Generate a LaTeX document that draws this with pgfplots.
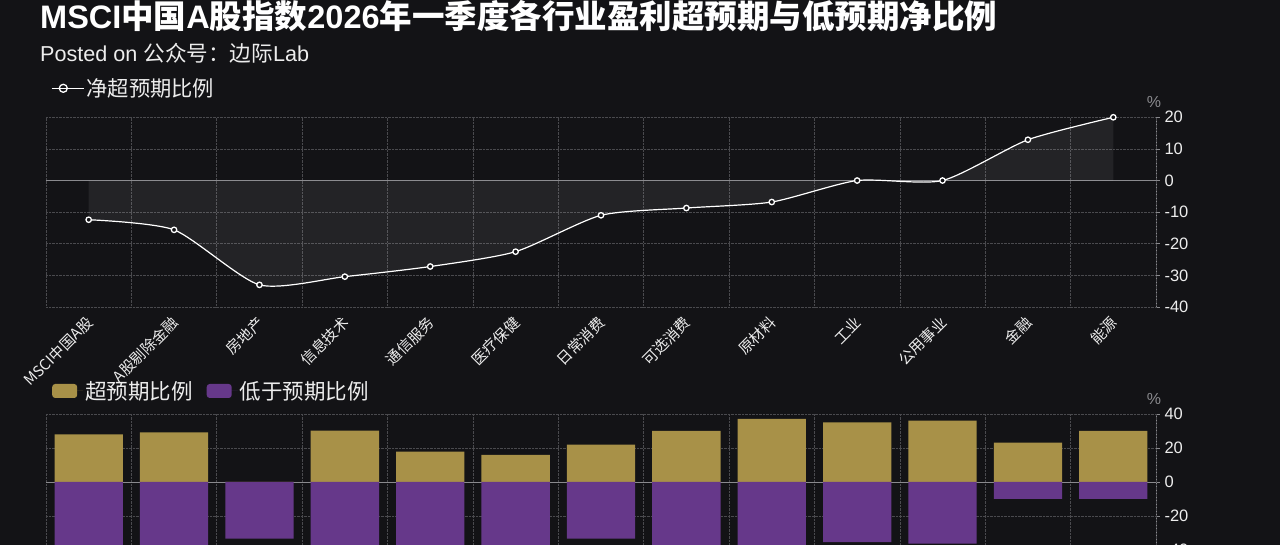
\documentclass[border=0pt]{standalone}
\usepackage{fontspec}
\setmainfont{Liberation Sans}
\newfontfamily\cjk{Noto Sans CJK SC}
\usepackage{pgfplots}
\pgfplotsset{compat=1.18}
\definecolor{bg}{HTML}{131316}
\definecolor{gold}{HTML}{A89148}
\definecolor{purp}{HTML}{66388A}
\definecolor{gridc}{HTML}{4A4A4E}
\definecolor{axc}{HTML}{8A8A8E}
\definecolor{txt}{HTML}{EDEDED}

\pgfplotstableread{
x y
0 -12.4
1 -15.6
2 -33.0
3 -30.4
4 -27.2
5 -22.5
6 -11.0
7 -8.7
8 -6.8
9 0
10 0
11 12.9
12 20
}\netdata

\pgfplotstableread{
x up down
0 28 -40.4
1 29.2 -44.8
2 0 -33.3
3 30.2 -60.6
4 17.8 -45.0
5 15.9 -38.4
6 22 -33.3
7 30 -38.7
8 37.1 -43.9
9 35.1 -35.3
10 36.1 -36.3
11 23.1 -10
12 30 -10
}\bardata

\pgfplotsset{
  barleg/.style={legend image code/.code={\fill[##1,/tikz/.cd, rounded corners=3pt] (0pt,-7pt) rectangle (25pt,7pt); \path (0pt,0pt) -- (31pt,0pt);}},
  common/.style={
    scale only axis, width=1110pt,
    xmin=-0.5, xmax=12.5,
    axis y line*=right, axis x line*=bottom,
    x axis line style={draw=none},
    y axis line style={axc, line width=0.8pt},
    xtick={0,...,12}, xtick style={draw=none},
    extra x ticks={-0.5,0.5,...,12.5}, extra x tick labels={},
    extra x tick style={grid=major, major tick length=0pt},
    ymajorgrids,
    grid style={gridc, densely dotted, line width=0.6pt},
    ytick style={axc, line width=0.8pt},
    tick align=outside, major tick length=4pt,
    yticklabel style={text=txt, font=\fontsize{16.5}{16.5}\selectfont, xshift=1pt},
    /pgf/number format/assume math mode=true,
    ylabel={\%},
    ylabel style={rotate=-90, at={(axis description cs:1,1)}, anchor=south, xshift=-2pt, yshift=6pt, text=axc, font=\fontsize{16}{16}\selectfont},
    legend cell align=left,
  },
}

\begin{document}
\begin{tikzpicture}
\fill[bg] (0pt,0pt) rectangle (1280pt,545pt);

\node[anchor=base west, inner sep=0pt, text=white, font=\fontsize{32.5}{32.5}\selectfont\bfseries] at (40pt,516pt) {MSCI{\cjk 中国}A{\cjk 股指数}2026{\cjk 年一季度各行业盈利超预期与低预期净比例}};
\node[anchor=base west, inner sep=0pt, text=txt, font=\fontsize{21.6}{21.6}\selectfont] at (40pt,483pt) {Posted on {\cjk 公众号：边际}Lab};

\begin{axis}[common,
  at={(46pt,238pt)}, anchor=south west, height=189.7pt,
  ymin=-40, ymax=20, ytick={-40,-30,...,20},
  xticklabels={MSCI中国A股,A股剔除金融,房地产,信息技术,通信服务,医疗保健,日常消费,可选消费,原材料,工业,公用事业,金融,能源},
  xticklabel style={xshift=2pt, yshift=-8pt, rotate=45, anchor=east, text=txt, font=\cjk\fontsize{15}{15}\selectfont, inner sep=1pt},
  legend style={at={(axis description cs:0,1)}, anchor=west, xshift=5pt, yshift=29pt, draw=none, fill=none, text=txt, font=\cjk\fontsize{21.3}{21.3}\selectfont, inner sep=0pt},
  legend image code/.code={\draw[mark repeat=2, mark phase=2, #1, mark size=4pt] plot coordinates {(0pt,0pt) (11.5pt,0pt) (23pt,0pt)}; \path (0pt,0pt) -- (32pt,0pt);},
]
\addplot[axc, line width=0.8pt, forget plot] coordinates {(-0.5,0) (12.5,0)};
\addplot[fill=white, fill opacity=0.07, draw=none, smooth, tension=0.4, forget plot] table[x=x, y=y] {\netdata} \closedcycle;
\addplot[white, line width=1.2pt, smooth, tension=0.4, mark=*, mark size=2.7pt, mark options={fill=bg, draw=white, line width=1.3pt}] table[x=x, y=y] {\netdata};
\addlegendentry{净超预期比例}
\end{axis}

\begin{axis}[common,
  at={(46pt,-5pt)}, anchor=south west, height=136pt,
  ymin=-40, ymax=40, ytick={-40,-20,0,20,40},
  xticklabels={},
  ybar, bar width=0.8,
  legend columns=2,
  legend style={at={(axis description cs:0,1)}, anchor=west, xshift=6pt, yshift=23pt, draw=none, fill=none, text=txt, font=\cjk\fontsize{21.5}{21.5}\selectfont, inner sep=0pt, /tikz/every even column/.append style={column sep=12pt}},
]
\addplot[axc, line width=0.8pt, forget plot, sharp plot] coordinates {(-0.5,0) (12.5,0)};
\addplot[fill=gold, draw=none, bar shift=0pt, barleg] table[x=x, y=up] {\bardata};
\addlegendentry{超预期比例}
\addplot[fill=purp, draw=none, bar shift=0pt, barleg] table[x=x, y=down] {\bardata};
\addlegendentry{低于预期比例}
\end{axis}
\pgfresetboundingbox
\path[use as bounding box] (0pt,0pt) rectangle (1280pt,545pt);
\end{tikzpicture}
\end{document}
